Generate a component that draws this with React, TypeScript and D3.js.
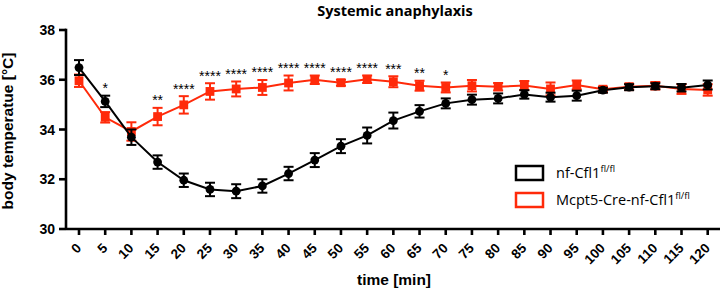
import React from "react"
import * as d3 from "d3"

// time points (min)
const times = [0, 5, 10, 15, 20, 25, 30, 35, 40, 45, 50, 55, 60, 65, 70, 75, 80, 85, 90, 95, 100, 105, 110, 115, 120]

// nf-Cfl1 fl/fl
const ctrlMean = [36.49, 35.13, 33.69, 32.69, 31.96, 31.59, 31.52, 31.73, 32.23, 32.77, 33.33, 33.76, 34.36, 34.73, 35.05, 35.2, 35.25, 35.41, 35.3, 35.36, 35.58, 35.7, 35.74, 35.68, 35.79]
const ctrlSem = [0.3, 0.23, 0.31, 0.27, 0.27, 0.27, 0.28, 0.27, 0.27, 0.28, 0.28, 0.32, 0.32, 0.25, 0.2, 0.2, 0.2, 0.17, 0.18, 0.2, 0.1, 0.12, 0.12, 0.15, 0.18]

// Mcpt5-Cre-nf-Cfl1 fl/fl
const creMean = [35.96, 34.49, 33.92, 34.52, 34.99, 35.53, 35.63, 35.69, 35.87, 36.0, 35.88, 36.02, 35.92, 35.76, 35.69, 35.76, 35.72, 35.77, 35.63, 35.79, 35.62, 35.72, 35.76, 35.63, 35.59]
const creSem = [0.25, 0.21, 0.37, 0.35, 0.35, 0.33, 0.3, 0.3, 0.3, 0.17, 0.12, 0.15, 0.22, 0.2, 0.2, 0.23, 0.15, 0.18, 0.26, 0.18, 0.1, 0.12, 0.15, 0.2, 0.23]

const stars = ["", "*", "", "**", "****", "****", "****", "****", "****", "****", "****", "****", "***", "**", "*", "", "", "", "", "", "", "", "", "", ""]

const yTicks = [30, 32, 34, 36, 38]

const RED = "#ff2a0a"
const W = 724
const H = 292

export default function App() {
    const x = d3.scaleLinear().domain([0, 120]).range([79, 707.7])
    const y = d3.scaleLinear().domain([30, 38]).range([229, 30])

    const line = d3
        .line<number>()
        .x((_, i) => x(times[i]))
        .y((d) => y(d))

    const errorBars = (means: number[], sems: number[], color: string) =>
        means.map((m, i) => {
            const cx = x(times[i])
            const y1 = y(m + sems[i])
            const y2 = y(m - sems[i])
            return (
                <g key={i} stroke={color} strokeWidth={2}>
                    <line x1={cx} x2={cx} y1={y1} y2={y2} />
                    <line x1={cx - 5} x2={cx + 5} y1={y1} y2={y1} />
                    <line x1={cx - 5} x2={cx + 5} y1={y2} y2={y2} />
                </g>
            )
        })

    return (
        <svg
            width={W}
            height={H}
            style={{ position: "absolute", left: 0, top: 0, background: "#fff" }}
            fontFamily="'Liberation Sans', Arial, sans-serif"
        >
            <text x={395} y={16} textAnchor="middle" fontFamily="'Open Sans', sans-serif" fontWeight="bold" fontSize={14.5}>
                Systemic anaphylaxis
            </text>

            {/* red series */}
            <path d={line(creMean) ?? ""} fill="none" stroke={RED} strokeWidth={2} />
            {errorBars(creMean, creSem, RED)}
            {creMean.map((m, i) => (
                <rect key={i} x={x(times[i]) - 4.4} y={y(m) - 4.4} width={8.8} height={8.8} fill={RED} />
            ))}

            {/* black series */}
            <path d={line(ctrlMean) ?? ""} fill="none" stroke="#000" strokeWidth={2} />
            {errorBars(ctrlMean, ctrlSem, "#000")}
            {ctrlMean.map((m, i) => (
                <circle key={i} cx={x(times[i])} cy={y(m)} r={4.4} fill="#000" />
            ))}

            {/* significance */}
            {stars.map((s, i) => {
                if (!s) return null
                const top = Math.max(ctrlMean[i] + ctrlSem[i], creMean[i] + creSem[i])
                return (
                    <text key={i} x={x(times[i])} y={y(top) - 2.5} textAnchor="middle" fontSize={14}>
                        {s}
                    </text>
                )
            })}

            {/* axes */}
            <g stroke="#000" strokeWidth={2.6} fill="none">
                <line x1={66} x2={66} y1={y(38) - 1.3} y2={229} />
                <line x1={66} x2={720} y1={229} y2={229} />
                {yTicks.map((t) => (
                    <line key={t} x1={59} x2={66} y1={y(t)} y2={y(t)} />
                ))}
                {times.map((t) => (
                    <line key={t} x1={x(t)} x2={x(t)} y1={229} y2={235} />
                ))}
            </g>
            {yTicks.map((t) => (
                <text key={t} x={55} y={y(t) + 5} textAnchor="end" fontWeight="bold" fontSize={14}>
                    {t}
                </text>
            ))}
            {times.map((t) => (
                <text
                    key={t}
                    transform={`translate(${x(t) + 3},249) rotate(-45)`}
                    textAnchor="end"
                    fontWeight="bold"
                    fontSize={13.5}
                >
                    {t}
                </text>
            ))}

            <text x={394} y={285} textAnchor="middle" fontWeight="bold" fontSize={15.5}>
                time [min]
            </text>
            <text transform="translate(13,131) rotate(-90)" textAnchor="middle" fontWeight="bold" fontSize={15.5}>
                body temperatue [°C]
            </text>

            {/* legend */}
            <rect x={516} y={166} width={27} height={14} fill="none" stroke="#000" strokeWidth={2.5} />
            <rect x={516} y={193} width={27} height={14} fill="none" stroke={RED} strokeWidth={2.5} />
            <g fontFamily="'Open Sans', sans-serif" fontSize={14.5}>
                <text x={556} y={178}>
                    nf-Cfl1<tspan fontSize={9.5} dy={-6}>fl/fl</tspan>
                </text>
                <text x={556} y={205}>
                    Mcpt5-Cre-nf-Cfl1<tspan fontSize={9.5} dy={-6}>fl/fl</tspan>
                </text>
            </g>
        </svg>
    )
}
